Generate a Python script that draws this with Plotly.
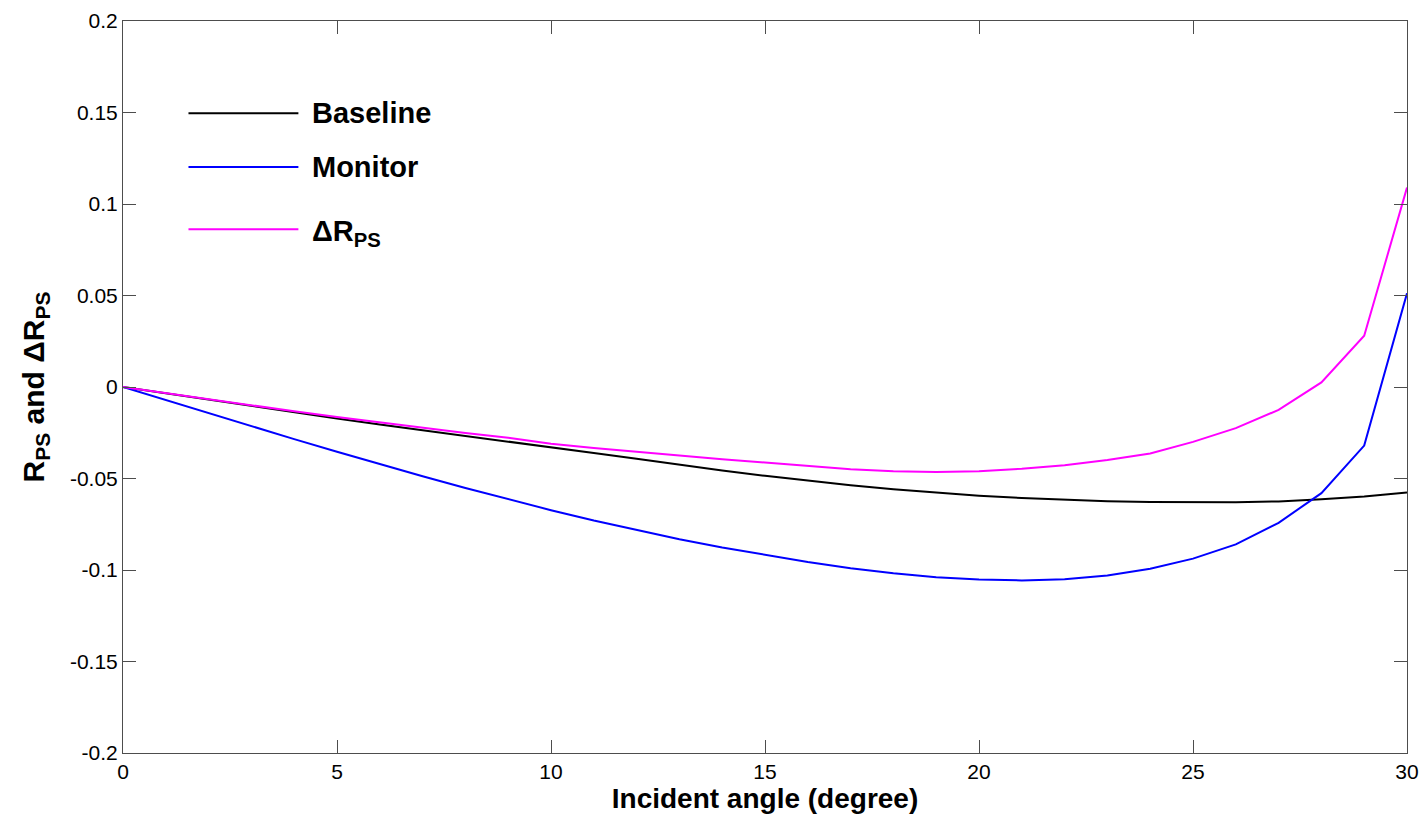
import plotly.graph_objects as go

angle = list(range(0, 31))

baseline = [0.0, -0.0035, -0.0070, -0.0104, -0.0138, -0.0172, -0.0205, -0.0237, -0.0268,
            -0.0298, -0.0330, -0.0361, -0.0392, -0.0425, -0.0456, -0.0485, -0.0512, -0.0537,
            -0.0559, -0.0578, -0.0594, -0.0607, -0.0617, -0.0624, -0.0629, -0.0631, -0.0630,
            -0.0625, -0.0614, -0.0598, -0.0576]

monitor = [0.0, -0.0072, -0.0144, -0.0215, -0.0285, -0.0354, -0.0422, -0.0488, -0.0552,
           -0.0614, -0.0673, -0.0730, -0.0783, -0.0832, -0.0877, -0.0918, -0.0956, -0.0990,
           -0.1018, -0.1039, -0.1052, -0.1057, -0.1050, -0.1030, -0.0993, -0.0938, -0.0860,
           -0.0742, -0.0580, -0.0320, 0.0512]

delta_rps = [0.0, -0.0034, -0.0068, -0.0101, -0.0133, -0.0164, -0.0194, -0.0223, -0.0251,
             -0.0277, -0.0310, -0.0333, -0.0355, -0.0376, -0.0395, -0.0413, -0.0433, -0.0450,
             -0.0461, -0.0465, -0.0460, -0.0447, -0.0427, -0.0399, -0.0363, -0.0300, -0.0225,
             -0.0125, 0.0025, 0.0280, 0.1090]

series_names = ["Baseline", "Monitor", "\u0394R<sub>PS</sub>"]
series_colors = ["#000000", "#0000FF", "#FF00FF"]

x_ticks = [0, 5, 10, 15, 20, 25, 30]
y_ticks = [0.2, 0.15, 0.1, 0.05, 0, -0.05, -0.1, -0.15, -0.2]
y_ticktext = ["0.2", "0.15", "0.1", "0.05", "0", "-0.05", "-0.1", "-0.15", "-0.2"]

FONT = "Liberation Sans, Arial, sans-serif"

fig = go.Figure()
for name, ys, col in zip(series_names, [baseline, monitor, delta_rps], series_colors):
    fig.add_trace(go.Scatter(x=angle, y=ys, mode="lines", name=name,
                             line=dict(color=col, width=2), showlegend=False))

# manual legend (long line samples like the original)
legend_y = [0.874, 0.8004, 0.7154]
text_dy = [0, 0, -4]
for name, col, ly, dy in zip(series_names, series_colors, legend_y, text_dy):
    fig.add_shape(type="line", xref="paper", yref="paper", x0=0.051, x1=0.1366,
                  y0=ly, y1=ly, line=dict(color=col, width=2))
    fig.add_annotation(xref="paper", yref="paper", x=0.1455, y=ly, xanchor="left",
                       yanchor="middle", yshift=dy, showarrow=False,
                       text="<b>" + name + "</b>",
                       font=dict(family=FONT, size=29, color="black"))

axis_common = dict(showline=True, linecolor="#4d4d4d", linewidth=1, mirror="ticks",
                   ticks="inside", ticklen=13, tickcolor="#4d4d4d", tickwidth=1,
                   showgrid=False, zeroline=False, automargin=False,
                   tickfont=dict(family=FONT, size=21, color="black"))

fig.update_xaxes(range=[0, 30], tickvals=x_ticks, **axis_common,
                 title=dict(text="<b>Incident angle (degree)</b>", standoff=4,
                            font=dict(family=FONT, size=28, color="black")))
fig.update_yaxes(range=[-0.2, 0.2], tickvals=y_ticks, ticktext=y_ticktext, **axis_common,
                 title=dict(text="<b>R<sub>PS</sub> and \u0394R<sub>PS</sub></b>", standoff=16,
                            font=dict(family=FONT, size=30, color="black")))

fig.update_layout(width=1425, height=815, plot_bgcolor="white", paper_bgcolor="white",
                  margin=dict(l=122.5, r=18, t=20.5, b=62))

fig.write_html("out.html", config={"displayModeBar": False},
               post_script="document.body.style.margin='0';document.body.style.overflow='hidden';")
